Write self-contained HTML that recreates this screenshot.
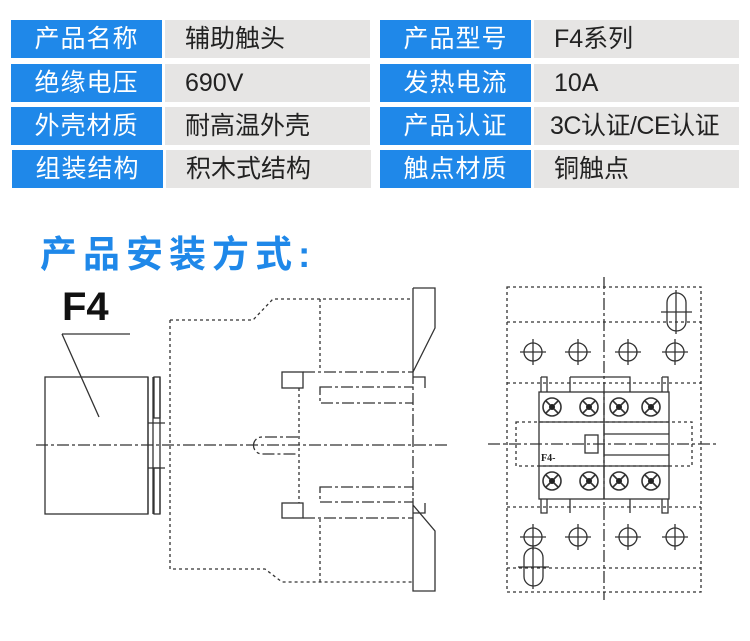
<!DOCTYPE html>
<html><head><meta charset="utf-8"><style>
body{margin:0;background:#fff;width:750px;height:641px;overflow:hidden;position:relative;font-family:"Liberation Sans","Noto Sans CJK SC",sans-serif}
.c{position:absolute;height:38px;line-height:38px;font-size:25px}
.b{background:#1f88e9;color:#fff;text-align:center;letter-spacing:1px}
.g{background:#e6e5e4;color:#222;padding-left:20px;box-sizing:border-box}
</style></head><body>
<div class="c b" style="left:11px;top:20px;width:151px">产品名称</div>
<div class="c g" style="left:165px;top:20px;width:205px">辅助触头</div>
<div class="c b" style="left:11px;top:64px;width:151px">绝缘电压</div>
<div class="c g" style="left:165px;top:64px;width:205px">690V</div>
<div class="c b" style="left:11px;top:107px;width:151px">外壳材质</div>
<div class="c g" style="left:165px;top:107px;width:205px">耐高温外壳</div>
<div class="c b" style="left:12px;top:150px;width:151px">组装结构</div>
<div class="c g" style="left:166px;top:150px;width:205px">积木式结构</div>
<div class="c b" style="left:380px;top:20px;width:151px">产品型号</div>
<div class="c g" style="left:534px;top:20px;width:205px">F4系列</div>
<div class="c b" style="left:380px;top:64px;width:151px">发热电流</div>
<div class="c g" style="left:534px;top:64px;width:205px">10A</div>
<div class="c b" style="left:380px;top:107px;width:151px">产品认证</div>
<div class="c g" style="left:534px;top:107px;width:205px;padding-left:16px;letter-spacing:-0.5px">3C认证/CE认证</div>
<div class="c b" style="left:380px;top:150px;width:151px">触点材质</div>
<div class="c g" style="left:534px;top:150px;width:205px">铜触点</div>
<div style="position:absolute;left:40px;top:224px;font-size:37px;color:#1f88e9;font-weight:bold;letter-spacing:6px">产品安装方式:</div>
<svg width="750" height="641" style="position:absolute;left:0;top:0" fill="none" stroke="#333" stroke-width="1.3">
<text x="62" y="320" font-size="40" font-weight="bold" fill="#111" stroke="none" font-family="Liberation Sans">F4</text>
<path d="M62 334H130M62 334L99 417"/>
<rect x="45" y="377" width="103" height="137"/>
<path d="M148 377V514M153 377V514M160 377V514"/>
<rect x="154" y="377" width="6" height="41"/><rect x="154" y="468" width="6" height="46"/>
<path d="M148 423H165M148 468H165"/>
<g stroke-dasharray="3 3">
<path d="M170 320H253L273 299H413M170 320V569H265L282 582H413M320 299V371M320 519V582M299 388V503M507 287H701V592H507ZM507 322H701M507 383H701M507 507H701M507 568H701M516 422H692V466H516Z"/>
</g>
<g stroke-dasharray="12 3 3 3">
<path d="M36 445H447M303 372H413M320 387H413V403H320ZM320 487H413V502H320ZM303 518H413M604 277V600M488 444H718M413 372V505"/>
<path d="M298 437H262A8.5 8.5 0 0 0 262 454H298"/>
</g>
<path d="M413 288H435V328L413 372M413 288V372M413 505L435 531V591H413V505M413 377H425V388M413 513H425V503"/>
<rect x="282" y="372" width="21" height="16"/><rect x="282" y="503" width="21" height="15"/>
<rect x="539" y="392" width="130" height="107"/>
<path d="M539 422H669M539 466H669M604 392V499M604 434H669M604 455H669"/>
<rect x="585" y="435" width="13" height="18"/>
<path d="M541 377H547V392M541 377V392M662 377H668V392M662 377V392M570 377H630V392M570 377V392M630 377V392M541 499V513H547V499M662 499V513H668V499M570 499V513M630 499V513"/>
<text x="541" y="461" font-size="10" font-weight="bold" fill="#222" stroke="none" font-family="Liberation Serif">F4-</text>
<g>
<circle cx="533" cy="352" r="9"/><circle cx="578" cy="352" r="9"/><circle cx="628" cy="352" r="9"/><circle cx="675" cy="352" r="9"/>
<circle cx="533" cy="537" r="9"/><circle cx="578" cy="537" r="9"/><circle cx="628" cy="537" r="9"/><circle cx="675" cy="537" r="9"/>
<path d="M520 352h26M533 339v26M565 352h26M578 339v26M615 352h26M628 339v26M662 352h26M675 339v26M520 537h26M533 524v26M565 537h26M578 524v26M615 537h26M628 524v26M662 537h26M675 524v26"/>
</g>
<g stroke-width="1.6">
<circle cx="552" cy="407" r="9"/><circle cx="589" cy="407" r="9"/><circle cx="619" cy="407" r="9"/><circle cx="651" cy="407" r="9"/>
<circle cx="552" cy="481" r="9"/><circle cx="589" cy="481" r="9"/><circle cx="619" cy="481" r="9"/><circle cx="651" cy="481" r="9"/>
<path d="M546 401l12 12M558 401l-12 12M583 401l12 12M595 401l-12 12M613 401l12 12M625 401l-12 12M645 401l12 12M657 401l-12 12M546 475l12 12M558 475l-12 12M583 475l12 12M595 475l-12 12M613 475l12 12M625 475l-12 12M645 475l12 12M657 475l-12 12"/>
</g>
<g fill="#222" stroke="none"><circle cx="552" cy="407" r="3"/><circle cx="589" cy="407" r="3"/><circle cx="619" cy="407" r="3"/><circle cx="651" cy="407" r="3"/><circle cx="552" cy="481" r="3"/><circle cx="589" cy="481" r="3"/><circle cx="619" cy="481" r="3"/><circle cx="651" cy="481" r="3"/></g>
<rect x="667" y="293" width="19" height="38" rx="9.5"/><path d="M661 312H692M676 290V334"/>
<rect x="524" y="548" width="19" height="38" rx="9.5"/><path d="M518 567H549M533 545V589"/>
</svg>
</body></html>
